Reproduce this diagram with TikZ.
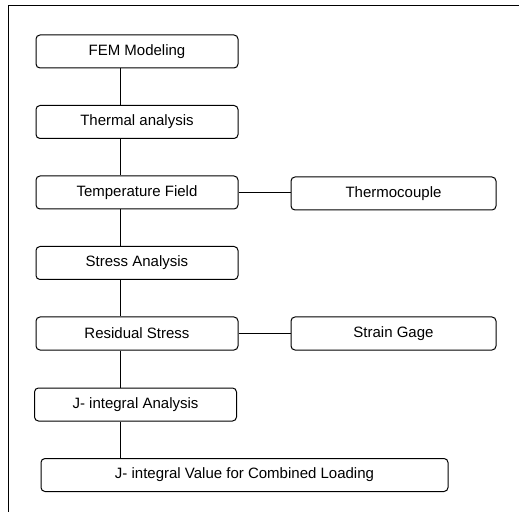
\documentclass[tikz,border=0pt]{standalone}
\usepackage{fontspec}
\setmainfont{Liberation Sans}
\begin{document}
\begin{tikzpicture}[
   x=1pt,y=-1pt,
   stage/.style={draw,line width=1pt,rounded corners=4pt,minimum width=202pt,minimum height=33pt,inner sep=0pt},
   probe/.style={stage,minimum width=205pt},
   link/.style={line width=1pt},
   every node/.style={font=\fontsize{15}{18}\selectfont}
 ]
  \useasboundingbox (0,0) rectangle (519,518);
  \coordinate (f0) at (519,6);
  \coordinate (f1) at (8,6);
  \coordinate (f2) at (8,512);
  \draw[link] (f0)--(f1)--(f2);

  \coordinate (spine) at (120,0);
  \node[stage] (fem) at (137,51.5) {FEM Modeling};
  \node[stage] (therm) at (137,122) {Thermal analysis};
  \node[stage] (temp) at (137,192.5) {Temperature Field};
  \node[stage] (stress) at (137,263) {Stress Analysis};
  \node[stage] (resid) at (137,333.5) {Residual Stress};
  \node[stage] (jana) at (135.5,404.5) {J- integral Analysis};
  \node[stage,minimum width=407pt] (jval) at (244.5,475) {J- integral Value for Combined Loading};

  \node[probe] (tc) at (393.5,193.5) {Thermocouple};
  \node[probe] (sg) at (393.5,333.5) {Strain Gage};

  \draw[link] (fem.south -| spine)--(therm.north -| spine);
  \draw[link] (therm.south -| spine)--(temp.north -| spine);
  \draw[link] (temp.south -| spine)--(stress.north -| spine);
  \draw[link] (stress.south -| spine)--(resid.north -| spine);
  \draw[link] (resid.south -| spine)--(jana.north -| spine);
  \draw[link] (jana.south -| spine)--(jval.north -| spine);
  \draw[link] (temp.east)--(temp.east -| tc.west);
  \draw[link] (resid.east)--(sg.west);
 \end{tikzpicture}
\end{document}
